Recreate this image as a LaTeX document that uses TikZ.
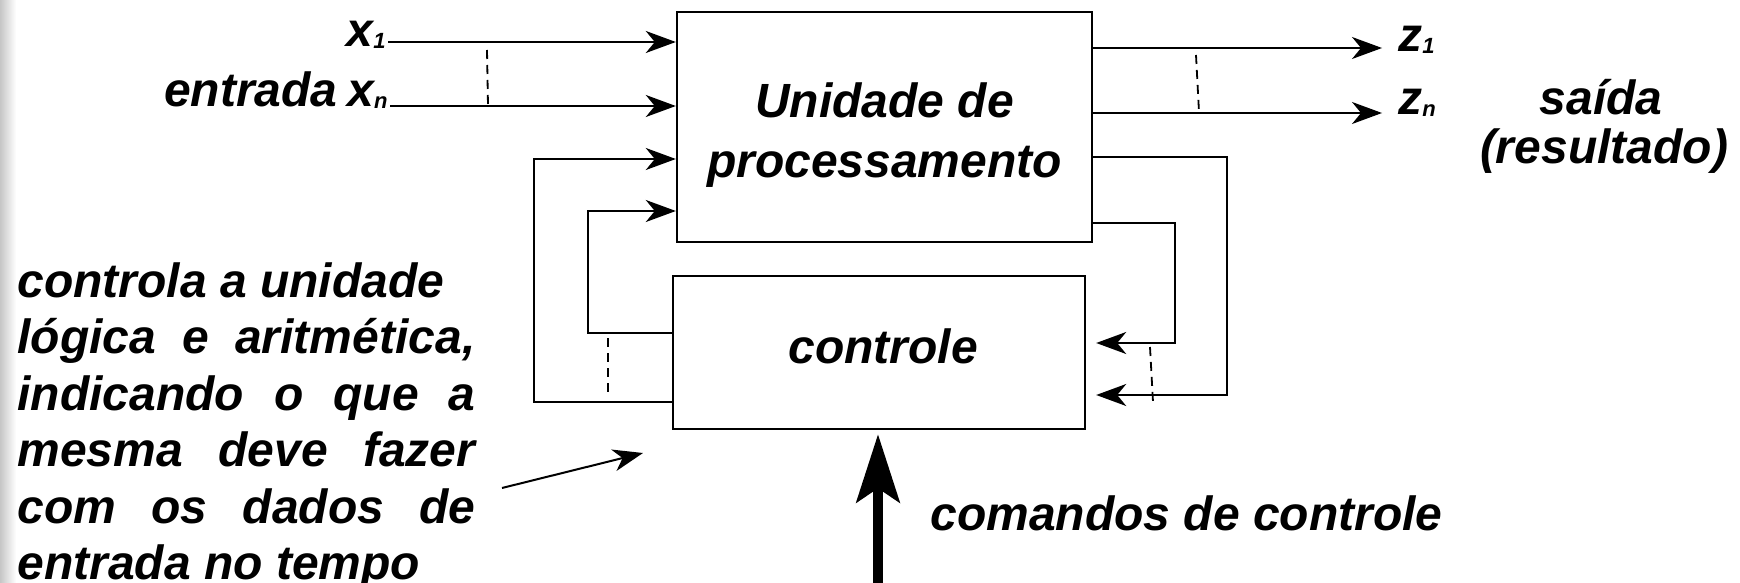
\documentclass[tikz,border=0pt]{standalone}
\usepackage{fontspec}
\setmainfont{Liberation Sans}
\usetikzlibrary{arrows.meta}
\newcommand{\subs}[1]{\raisebox{-1pt}{\fontsize{11}{11}\selectfont #1}}
\begin{document}
\begin{tikzpicture}[x=0.5pt,y=-0.5pt,
  lbl/.style={font=\fontsize{24}{28}\selectfont\bfseries\itshape, inner sep=0pt},
  blk/.style={draw, line width=1.2pt, inner sep=0pt},
  wire/.style={line width=1pt},
  arr/.style={wire, -{Stealth[length=15pt,width=11pt,inset=4.5pt]}},
  dsh/.style={line width=0.9pt, dash pattern=on 4.5pt off 3pt},
  big/.style={line width=5pt, -{Stealth[length=34pt,width=21.5pt,inset=7pt]}}
]
\useasboundingbox (0,0) rectangle (1740,583);
\shade[left color=gray!45,right color=white] (0,0) rectangle (16,583);

% blocks
\node[blk, minimum width=207.5pt, minimum height=115pt] (pu) at (884.5,127) {};
\node[lbl, align=center, font=\fontsize{24}{30}\selectfont\bfseries\itshape]
     (putxt) at (884.5,135) {Unidade de\\processamento};
\node[blk, minimum width=206pt, minimum height=76.5pt] (ctl) at (879,352.5) {};
\node[lbl, anchor=base] (ctltxt) at (883,363) {controle};

% input labels
\node[lbl, anchor=base east] (x1) at (386,47) {x\subs{1}};
\node[lbl, anchor=base east] (xn) at (388,107) {entrada\hspace{5pt}x\subs{n}};
\coordinate (x1s) at (388,42);
\coordinate (xns) at (390,106);
\draw[arr] (x1s) -- (x1s -| pu.west);
\draw[arr] (xns) -- (xns -| pu.west);
\coordinate (d1a) at (487,50);
\coordinate (d1b) at (488,106);
\draw[dsh] (d1a) -- (d1b);

% feedback into processing unit
\coordinate (L1a) at (534,402); \coordinate (L1b) at (534,159);
\draw[arr] (ctl.west |- L1a) -- (L1a) -- (L1b) -- (L1b -| pu.west);
\coordinate (L2a) at (588,333); \coordinate (L2b) at (588,211);
\draw[arr] (ctl.west |- L2a) -- (L2a) -- (L2b) -- (L2b -| pu.west);
\coordinate (d2a) at (608,338);
\coordinate (d2b) at (608,392);
\draw[dsh] (d2a) -- (d2b);

% outputs
\coordinate (z1e) at (1382,48);
\coordinate (zne) at (1382,113);
\draw[arr] (pu.east |- z1e) -- (z1e);
\draw[arr] (pu.east |- zne) -- (zne);
\node[lbl, anchor=base west] (z1) at (1398,52) {z\subs{1}};
\node[lbl, anchor=base west] (zn) at (1398,115) {z\subs{n}};
\coordinate (d3a) at (1196,55);
\coordinate (d3b) at (1199,112);
\draw[dsh] (d3a) -- (d3b);
\node[lbl, anchor=base] (said) at (1601,115) {saída};
\node[lbl, anchor=base] (res) at (1604,163) {(resultado)};

% feedback into control
\coordinate (R1a) at (1227,157); \coordinate (R1b) at (1227,395);
\draw[arr, shorten >=5pt] (pu.east |- R1a) -- (R1a) -- (R1b) -- (R1b -| ctl.east);
\coordinate (R2a) at (1175,223); \coordinate (R2b) at (1175,343);
\draw[arr, shorten >=5pt] (pu.east |- R2a) -- (R2a) -- (R2b) -- (R2b -| ctl.east);
\coordinate (d4a) at (1150,347);
\coordinate (d4b) at (1153,402);
\draw[dsh] (d4a) -- (d4b);

% commands
\coordinate (cmd) at (878,600);
\draw[big, shorten >=2pt] (cmd) -- (cmd |- ctl.south);
\node[lbl, anchor=base west] (cmdtxt) at (930,530) {comandos de controle};

% left explanation
\node[lbl, anchor=base west] (p1) at (17,297) {controla a unidade};
\node[lbl, anchor=base west] (p2) at (17,353.5) {\makebox[229pt][s]{lógica e aritmética,}};
\node[lbl, anchor=base west] (p3) at (17,410) {\makebox[229pt][s]{indicando o que a}};
\node[lbl, anchor=base west] (p4) at (17,466.5) {\makebox[229pt][s]{mesma deve fazer}};
\node[lbl, anchor=base west] (p5) at (17,523) {\makebox[229pt][s]{com os dados de}};
\node[lbl, anchor=base west] (p6) at (17,579.5) {entrada no tempo};
\coordinate (da) at (502,488);
\coordinate (db) at (643,453);
\draw[arr] (da) -- (db);
\end{tikzpicture}
\end{document}
